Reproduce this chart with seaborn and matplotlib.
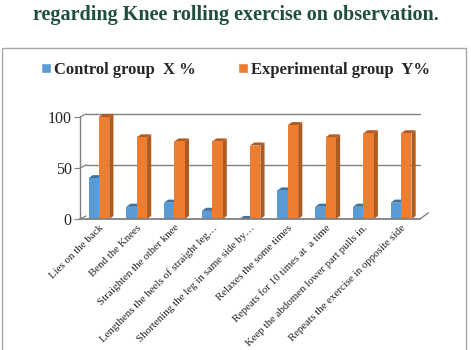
import numpy as np
import pandas as pd
import matplotlib
matplotlib.use("Agg")
import matplotlib.pyplot as plt
import seaborn as sns
from matplotlib.patches import Polygon, Rectangle

categories = [
    "Lies on the back",
    "Bend the Knees",
    "Straighten the other knee",
    "Lengthens the heels of straight leg…",
    "Shortening the leg in same side by…",
    "Relaxes the some times",
    "Repeats for 10 times at  a time",
    "Keep the abdomen lower part pulls in.",
    "Repeats the exercise in opposite side",
]
control = [40, 12, 16, 8, 0, 28, 12, 12, 16]
experimental = [100, 80, 76, 76, 72, 92, 80, 84, 84]
series_names = ["Control group  X %", "Experimental group  Y%"]
y_ticks = [0, 50, 100]

df = pd.DataFrame({
    "cat": categories * 2,
    "val": control + experimental,
    "grp": [series_names[0]] * len(categories) + [series_names[1]] * len(categories),
})

sns.set_style("white")
plt.rcParams["font.family"] = ["Liberation Serif", "DejaVu Serif"]

colors = ["#5B9BD5", "#ED7D31"]
dark = ["#41719C", "#AE5A21"]

fig = plt.figure(figsize=(4.71, 3.5), dpi=100)
fig.patches.append(Rectangle((2 / 471, -0.05), 464 / 471, 1 - 48 / 350 + 0.05,
                             transform=fig.transFigure, fill=False,
                             edgecolor="#a6a6a6", linewidth=1.0))
fig.text(0.5, 1 - 15 / 350, "regarding Knee rolling exercise on observation.",
         ha="center", va="center", fontsize=14.5, fontweight="bold", color="#1F4E3D")

ax = fig.add_axes([80 / 471, 1 - 219 / 350, 340 / 471, 102 / 350])
sns.barplot(data=df, x="cat", y="val", hue="grp", palette=colors, width=0.55,
            ax=ax, saturation=1, legend=False, linewidth=0)
ax.set_ylim(0, 100)
ax.set_xlim(-0.5, len(categories) - 0.5)

# pseudo 3D faces built from the bar patches
dx, dy = 0.11, 3.0
for i, cont in enumerate(ax.containers):
    for p in cont:
        x0, w, h = p.get_x(), p.get_width(), p.get_height()
        x1 = x0 + w
        top = Polygon([(x0, h), (x1, h), (x1 + dx, h + dy), (x0 + dx, h + dy)],
                      closed=True, facecolor=dark[i], edgecolor="none", clip_on=False, zorder=3)
        ax.add_patch(top)
        if i == 1 or h > 0:
            side = Polygon([(x1, 0), (x1 + dx, dy), (x1 + dx, h + dy), (x1, h)],
                           closed=True, facecolor=dark[i], edgecolor="none", clip_on=False, zorder=3)
            ax.add_patch(side)
        p.set_zorder(4)

# grid / walls
gc = "#808080"
for yv in y_ticks[1:]:
    ax.plot([-0.5 + 0.16, len(categories) - 0.5], [yv + dy, yv + dy], color=gc,
            lw=1.0, clip_on=False, zorder=1)
    ax.plot([-0.5, -0.5 + 0.16], [yv, yv + dy], color=gc, lw=0.9, clip_on=False, zorder=1)
ax.plot([-0.5, len(categories) - 0.5], [0, 0], color=gc, lw=1.3, clip_on=False, zorder=5)
ax.plot([len(categories) - 0.5, len(categories) - 0.5 + 0.22], [0, 6], color=gc,
        lw=1.0, clip_on=False, zorder=5)
ax.plot([-0.5, -0.5 + 0.16], [0, dy], color=gc, lw=0.9, clip_on=False, zorder=5)

for s in ["top", "right", "bottom"]:
    ax.spines[s].set_visible(False)
ax.spines["left"].set_color(gc)
ax.spines["left"].set_linewidth(1.0)

ax.set_yticks(y_ticks)
ax.set_yticklabels([str(v) for v in y_ticks], fontsize=11.5)
ax.tick_params(axis="y", length=4, color=gc, pad=2, left=True)
ax.tick_params(axis="x", length=0, pad=3)
ax.set_xticks(range(len(categories)))
ax.set_xticklabels(categories, rotation=45, ha="right", va="top", fontsize=7.8,
                   rotation_mode="anchor", color="#222222")
ax.set_xlabel("")
ax.set_ylabel("")

handles = [Rectangle((0, 0), 1, 1, facecolor=c) for c in colors]
fig.legend(handles, series_names, loc="center", bbox_to_anchor=(0.5, 1 - 70 / 350), ncol=2,
           frameon=False, handlelength=0.6, handleheight=0.6, handletextpad=0.2,
           columnspacing=2.5, prop={"weight": "bold", "size": 12, "family": "Liberation Serif"})

fig.savefig("out.png", dpi=100)
